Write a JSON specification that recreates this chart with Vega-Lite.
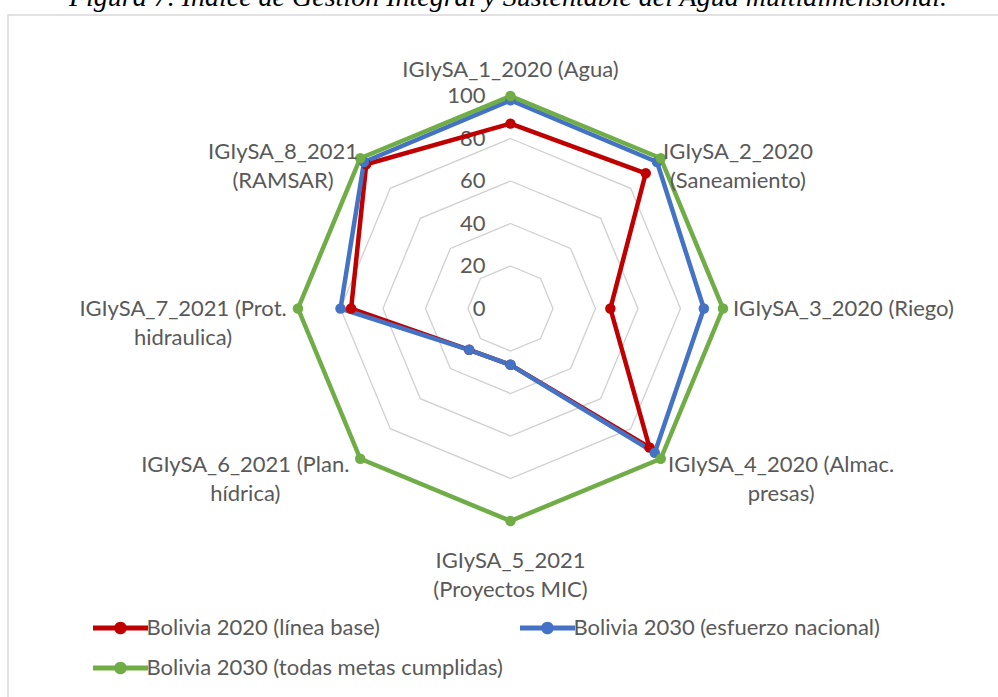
{
  "$schema": "https://vega.github.io/schema/vega-lite/v6.json",
  "width": 1000,
  "height": 690,
  "autosize": {"type": "none"},
  "padding": {"left": 8, "top": 15, "right": 0, "bottom": 0},
  "background": "white",
  "config": {"view": {"stroke": "#d9d9d9", "strokeWidth": 1.5}, "font": "Lato"},
  "title": {
    "text": "Figura 7. Índice de Gestión Integral y Sustentable del Agua multidimensional.",
    "font": "Liberation Serif",
    "fontStyle": "italic",
    "fontWeight": "normal",
    "fontSize": 28,
    "color": "#000000",
    "baseline": "alphabetic",
    "offset": 0,
    "dy": 19,
    "anchor": "middle"
  },
  "datasets": {
    "series": [
      {"s": "Bolivia 2020 (línea base)", "k": 1, "v": 87},
      {"s": "Bolivia 2020 (línea base)", "k": 2, "v": 90},
      {"s": "Bolivia 2020 (línea base)", "k": 3, "v": 47},
      {"s": "Bolivia 2020 (línea base)", "k": 4, "v": 92.5},
      {"s": "Bolivia 2020 (línea base)", "k": 5, "v": 26.5},
      {"s": "Bolivia 2020 (línea base)", "k": 6, "v": 27.5},
      {"s": "Bolivia 2020 (línea base)", "k": 7, "v": 75},
      {"s": "Bolivia 2020 (línea base)", "k": 8, "v": 96},
      {"s": "Bolivia 2020 (línea base)", "k": 9, "v": 87},
      {"s": "Bolivia 2030 (esfuerzo nacional)", "k": 1, "v": 98},
      {"s": "Bolivia 2030 (esfuerzo nacional)", "k": 2, "v": 97.5},
      {"s": "Bolivia 2030 (esfuerzo nacional)", "k": 3, "v": 91},
      {"s": "Bolivia 2030 (esfuerzo nacional)", "k": 4, "v": 96},
      {"s": "Bolivia 2030 (esfuerzo nacional)", "k": 5, "v": 26.5},
      {"s": "Bolivia 2030 (esfuerzo nacional)", "k": 6, "v": 27.5},
      {"s": "Bolivia 2030 (esfuerzo nacional)", "k": 7, "v": 80},
      {"s": "Bolivia 2030 (esfuerzo nacional)", "k": 8, "v": 97.5},
      {"s": "Bolivia 2030 (esfuerzo nacional)", "k": 9, "v": 98},
      {"s": "Bolivia 2030 (todas metas cumplidas)", "k": 1, "v": 100},
      {"s": "Bolivia 2030 (todas metas cumplidas)", "k": 2, "v": 100},
      {"s": "Bolivia 2030 (todas metas cumplidas)", "k": 3, "v": 100},
      {"s": "Bolivia 2030 (todas metas cumplidas)", "k": 4, "v": 100},
      {"s": "Bolivia 2030 (todas metas cumplidas)", "k": 5, "v": 100},
      {"s": "Bolivia 2030 (todas metas cumplidas)", "k": 6, "v": 100},
      {"s": "Bolivia 2030 (todas metas cumplidas)", "k": 7, "v": 100},
      {"s": "Bolivia 2030 (todas metas cumplidas)", "k": 8, "v": 100},
      {"s": "Bolivia 2030 (todas metas cumplidas)", "k": 9, "v": 100}
    ],
    "grid": [
      {"g": 20, "k": [1, 2, 3, 4, 5, 6, 7, 8, 9]},
      {"g": 40, "k": [1, 2, 3, 4, 5, 6, 7, 8, 9]},
      {"g": 60, "k": [1, 2, 3, 4, 5, 6, 7, 8, 9]},
      {"g": 80, "k": [1, 2, 3, 4, 5, 6, 7, 8, 9]},
      {"g": 100, "k": [1, 2, 3, 4, 5, 6, 7, 8, 9]}
    ],
    "ticks": [
      {"t": 0}, {"t": 20}, {"t": 40}, {"t": 60}, {"t": 80}, {"t": 100}
    ],
    "axes": [
      {"k": 1, "label": "IGIySA_1_2020 (Agua)"},
      {"k": 2, "label": "IGIySA_2_2020\n(Saneamiento)"},
      {"k": 3, "label": "IGIySA_3_2020 (Riego)"},
      {"k": 4, "label": "IGIySA_4_2020 (Almac.\npresas)"},
      {"k": 5, "label": "IGIySA_5_2021\n(Proyectos MIC)"},
      {"k": 6, "label": "IGIySA_6_2021 (Plan.\nhídrica)"},
      {"k": 7, "label": "IGIySA_7_2021 (Prot.\nhidraulica)"},
      {"k": 8, "label": "IGIySA_8_2021\n(RAMSAR)"}
    ]
  },
  "resolve": {"legend": {"color": "independent"}},
  "layer": [
    {
      "data": {"name": "grid"},
      "transform": [
        {"flatten": ["k"]},
        {"calculate": "(datum.k-1)*PI/4", "as": "a"},
        {"calculate": "datum.g*sin(datum.a)", "as": "x"},
        {"calculate": "datum.g*cos(datum.a)", "as": "y"}
      ],
      "mark": {"type": "line", "color": "#d0d0d0", "strokeWidth": 1.3},
      "encoding": {
        "x": {"field": "x", "type": "quantitative", "scale": {"domain": [-236.47, 234.12], "nice": false, "zero": false}, "axis": null},
        "y": {"field": "y", "type": "quantitative", "scale": {"domain": [-186.59, 138.12], "nice": false, "zero": false}, "axis": null},
        "detail": {"field": "g"},
        "order": {"field": "k"}
      }
    },
    {
      "data": {"name": "ticks"},
      "mark": {"type": "text", "align": "right", "baseline": "middle", "dx": -25, "fontSize": 22, "color": "#595959"},
      "encoding": {
        "x": {"datum": 0, "type": "quantitative"},
        "y": {"field": "t", "type": "quantitative"},
        "text": {"field": "t", "type": "quantitative"}
      }
    },
    {
      "data": {"name": "series"},
      "transform": [
        {"calculate": "(datum.k-1)*PI/4", "as": "a"},
        {"calculate": "datum.v*sin(datum.a)", "as": "x"},
        {"calculate": "datum.v*cos(datum.a)", "as": "y"}
      ],
      "mark": {"type": "line", "strokeWidth": 4.5, "strokeJoin": "round"},
      "encoding": {
        "x": {"field": "x", "type": "quantitative"},
        "y": {"field": "y", "type": "quantitative"},
        "color": {
          "field": "s",
          "type": "nominal",
          "scale": {
            "domain": ["Bolivia 2020 (línea base)", "Bolivia 2030 (esfuerzo nacional)", "Bolivia 2030 (todas metas cumplidas)"],
            "range": ["#C00000", "#4472C4", "#70AD47"]
          },
          "legend": null
        },
        "order": {"field": "k"}
      }
    },
    {
      "data": {"name": "series"},
      "transform": [
        {"filter": "datum.k <= 8"},
        {"calculate": "(datum.k-1)*PI/4", "as": "a"},
        {"calculate": "datum.v*sin(datum.a)", "as": "x"},
        {"calculate": "datum.v*cos(datum.a)", "as": "y"}
      ],
      "mark": {"type": "point", "filled": true, "size": 110, "opacity": 1, "shape": "circle"},
      "encoding": {
        "x": {"field": "x", "type": "quantitative"},
        "y": {"field": "y", "type": "quantitative"},
        "color": {
          "field": "s",
          "type": "nominal",
          "scale": {
            "domain": ["Bolivia 2020 (línea base)", "Bolivia 2030 (esfuerzo nacional)", "Bolivia 2030 (todas metas cumplidas)"],
            "range": ["#C00000", "#4472C4", "#70AD47"]
          },
          "legend": {
            "orient": "none",
            "legendX": 101.5,
            "legendY": 602,
            "direction": "horizontal",
            "columns": 2,
            "gridAlign": "none",
            "title": null,
            "padding": 0,
            "symbolType": "M-5,-0.45L5,-0.45L5,0.45L-5,0.45Z M-1.15,0A1.15,1.15 0 1,1 1.15,0A1.15,1.15 0 1,1 -1.15,0Z",
            "symbolSize": 121,
            "symbolStrokeWidth": 0,
            "symbolOpacity": 1,
            "labelFont": "Lato",
            "labelFontSize": 22,
            "labelColor": "#595959",
            "labelOffset": 15,
            "labelLimit": 700,
            "columnPadding": 16,
            "rowPadding": 18
          }
        }
      }
    },
    {
      "data": {"name": "axes"},
      "transform": [
        {"calculate": "(datum.k-1)*PI/4", "as": "a"},
        {"calculate": "sin(datum.a)", "as": "sn"},
        {"calculate": "cos(datum.a)", "as": "cs"},
        {"calculate": "abs(datum.sn) < 0.1 ? 0 : (datum.sn > 0 ? 1 : -1)", "as": "side"},
        {"calculate": "split(datum.label, '\\n')", "as": "lines"},
        {"calculate": "length(datum.lines)", "as": "n"},
        {"calculate": "max(length(datum.lines[0]), datum.n > 1 ? length(datum.lines[1]) : 0)", "as": "w"},
        {"calculate": "100*datum.sn + datum.side*(3.3 + datum.w*2.54)", "as": "x"},
        {"calculate": "100*datum.cs + (datum.side != 0 ? datum.cs*4.2 : (datum.cs > 0 ? 1 : -1)*(5.6 + datum.n*6.7))", "as": "y"}
      ],
      "mark": {"type": "text", "align": "center", "baseline": "middle", "fontSize": 22, "lineHeight": 29, "color": "#595959"},
      "encoding": {
        "x": {"field": "x", "type": "quantitative"},
        "y": {"field": "y", "type": "quantitative"},
        "text": {"field": "lines"}
      }
    }
  ]
}
